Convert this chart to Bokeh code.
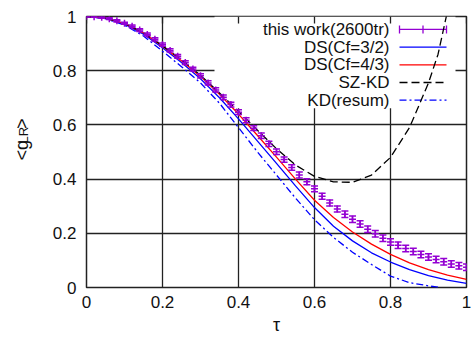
import math
from bokeh.plotting import figure
from bokeh.layouts import row
from bokeh.models import Range1d, FixedTicker, Label
from bokeh.core.properties import value
from bokeh.embed import file_html
from bokeh.resources import INLINE

# ---------------- data ----------------
tau_mc = [0.00, 0.02, 0.04, 0.06, 0.08, 0.10, 0.12, 0.14, 0.16, 0.18,
          0.20, 0.22, 0.24, 0.26, 0.28, 0.30, 0.32, 0.34, 0.36, 0.38,
          0.40, 0.42, 0.44, 0.46, 0.48, 0.50, 0.52, 0.54, 0.56, 0.58,
          0.60, 0.62, 0.64, 0.66, 0.68, 0.70, 0.72, 0.74, 0.76, 0.78,
          0.80, 0.82, 0.84, 0.86, 0.88, 0.90, 0.92, 0.94, 0.96, 0.98,
          1.00]
g_mc = [1.000, 0.999, 0.997, 0.992, 0.984, 0.975, 0.964, 0.950, 0.934, 0.916,
        0.896, 0.875, 0.853, 0.830, 0.806, 0.781, 0.755, 0.729, 0.702, 0.675,
        0.647, 0.617, 0.588, 0.560, 0.530, 0.501, 0.472, 0.443, 0.415, 0.390,
        0.364, 0.337, 0.312, 0.290, 0.270, 0.252, 0.234, 0.215, 0.198, 0.182,
        0.168, 0.156, 0.144, 0.133, 0.122, 0.113, 0.103, 0.095, 0.087, 0.080,
        0.075]
err_mc = [0.002, 0.002, 0.003, 0.003, 0.004, 0.004, 0.005, 0.005, 0.005, 0.006,
          0.006, 0.006, 0.007, 0.007, 0.007, 0.008, 0.008, 0.008, 0.008, 0.009,
          0.009, 0.009, 0.009, 0.010, 0.010, 0.010, 0.010, 0.010, 0.011, 0.011,
          0.011, 0.011, 0.011, 0.011, 0.012, 0.012, 0.012, 0.012, 0.012, 0.012,
          0.012, 0.012, 0.012, 0.012, 0.012, 0.012, 0.012, 0.012, 0.012, 0.012,
          0.012]

tau_curve = [0.00, 0.05, 0.10, 0.15, 0.20, 0.25, 0.30, 0.35, 0.40, 0.45,
             0.50, 0.55, 0.60, 0.65, 0.70, 0.75, 0.80, 0.85, 0.90, 0.95, 1.00]
ds_32 = [1.000, 0.993, 0.972, 0.935, 0.885, 0.830, 0.770, 0.700, 0.622, 0.540,
         0.458, 0.375, 0.295, 0.226, 0.172, 0.128, 0.094, 0.066, 0.044, 0.027, 0.015]
ds_43 = [1.000, 0.994, 0.974, 0.939, 0.890, 0.837, 0.779, 0.713, 0.640, 0.561,
         0.481, 0.400, 0.322, 0.258, 0.205, 0.160, 0.122, 0.091, 0.066, 0.046, 0.030]

tau_szkd = [0.00, 0.05, 0.10, 0.15, 0.20, 0.25, 0.30, 0.35, 0.40, 0.45,
            0.50, 0.55, 0.60, 0.65, 0.70, 0.75, 0.80, 0.85, 0.90, 0.925, 0.95]
sz_kd = [1.000, 0.994, 0.975, 0.940, 0.892, 0.840, 0.783, 0.718, 0.650, 0.580,
         0.512, 0.452, 0.410, 0.390, 0.388, 0.415, 0.480, 0.590, 0.755, 0.860, 1.020]

tau_kd = [0.00, 0.05, 0.10, 0.15, 0.20, 0.25, 0.30, 0.35, 0.40, 0.45,
          0.50, 0.55, 0.60, 0.65, 0.70, 0.75, 0.80, 0.85, 0.90, 0.93]
kd_resum = [1.000, 0.992, 0.968, 0.928, 0.872, 0.815, 0.755, 0.680, 0.590, 0.500,
            0.415, 0.330, 0.250, 0.185, 0.130, 0.085, 0.042, 0.018, 0.006, 0.000]

tick_vals = [0.0, 0.2, 0.4, 0.6, 0.8, 1.0]
tick_labels = ["0", "0.2", "0.4", "0.6", "0.8", "1"]
legend_labels = ["this work(2600tr)", "DS(Cf=3/2)", "DS(Cf=4/3)", "SZ-KD", "KD(resum)"]
x_title = "τ"
y_title_parts = ["<g", "LR", ">"]

# ---------------- styling / layout ----------------
PURPLE = "#9400D3"
FONT = "Liberation Sans"
TXT = "#111111"
H = 337
LW = 40                     # width of the strip holding the y title
W = 471 - LW
ML, MR, MT, MB = 86 - LW, 5, 16, 49
FW, FH = W - ML - MR, H - MT - MB   # frame size in px (380 x 272)


def dx(px):  # horizontal pixel offset -> data units of the main frame
    return px / FW


def dy(py):  # vertical pixel offset -> data units of the main frame
    return py / FH


p = figure(width=W, height=H, x_range=Range1d(0, 1), y_range=Range1d(0, 1),
           output_backend="svg", toolbar_location=None,
           min_border_left=ML, min_border_right=MR,
           min_border_top=MT, min_border_bottom=MB)
p.background_fill_color = "white"
p.border_fill_color = "white"
p.outline_line_color = "#222222"
p.outline_line_width = 1.5

ticker = FixedTicker(ticks=tick_vals)
for ax in (p.xaxis[0], p.yaxis[0]):
    ax.ticker = ticker
    ax.major_label_overrides = {v: s for v, s in zip(tick_vals, tick_labels)}
    ax.axis_line_color = None
    ax.major_tick_out = 0
    ax.major_tick_in = 0
    ax.minor_tick_line_color = None
    ax.major_label_text_font = FONT
    ax.major_label_text_font_size = "17px"
    ax.major_label_text_color = TXT
p.xaxis[0].major_label_standoff = 8
p.yaxis[0].major_label_standoff = 10
p.xaxis[0].axis_label = x_title
p.xaxis[0].axis_label_text_font = FONT
p.xaxis[0].axis_label_text_font_size = "18px"
p.xaxis[0].axis_label_text_font_style = "normal"
p.xaxis[0].axis_label_text_color = TXT
p.xaxis[0].axis_label_standoff = 4

for g in (p.xgrid[0], p.ygrid[0]):
    g.ticker = ticker
    g.grid_line_color = "#222222"
    g.grid_line_width = 1.3
    g.grid_line_alpha = 1.0

# opaque key box (hides grid lines behind the key)
box_left, box_right = dx(128), dx(369)
box_bottom = 1 - dy(92)
p.quad(left=[box_left], right=[box_right], top=[1.0], bottom=[box_bottom],
       fill_color="white", line_color=None)

# inward ticks on the top border
tlen = dy(7)
p.segment(x0=tick_vals, y0=[1.0] * len(tick_vals), x1=tick_vals,
          y1=[1.0 - tlen] * len(tick_vals), line_color="#222222", line_width=1.3)

# key samples
row_y = [1 - dy(13 + 17.75 * i) for i in range(5)]
txt_x = dx(303)
s0, s1 = dx(313), dx(360)
cap = dy(4)
p.segment(x0=[s0], y0=[row_y[0]], x1=[s1], y1=[row_y[0]], line_color=PURPLE, line_width=1.3)
for xx in (s0, (s0 + s1) / 2, s1):
    p.segment(x0=[xx], y0=[row_y[0] - cap], x1=[xx], y1=[row_y[0] + cap],
              line_color=PURPLE, line_width=1.3)
p.segment(x0=[s0], y0=[row_y[1]], x1=[s1], y1=[row_y[1]], line_color="blue", line_width=1.3)
p.segment(x0=[s0], y0=[row_y[2]], x1=[s1], y1=[row_y[2]], line_color="red", line_width=1.3)
p.segment(x0=[s0], y0=[row_y[3]], x1=[s1], y1=[row_y[3]], line_color="black",
          line_width=1.3, line_dash="8 4")
p.segment(x0=[s0], y0=[row_y[4]], x1=[s1], y1=[row_y[4]], line_color="blue",
          line_width=1.3, line_dash="7 3 2 3")

for yy, lab in zip(row_y, legend_labels):
    p.add_layout(Label(x=txt_x, y=yy, text=lab, text_align="right",
                       text_baseline="middle", text_font=FONT,
                       text_font_size="17px", text_color=TXT))

# ---------------- data curves ----------------
p.line(tau_kd, kd_resum, line_color="blue", line_width=1.3, line_dash="7 3 2 3")
p.line(tau_curve, ds_32, line_color="blue", line_width=1.3)
p.line(tau_curve, ds_43, line_color="red", line_width=1.3)
p.line(tau_szkd, sz_kd, line_color="black", line_width=1.3, line_dash="8 4")

lo = [g - e for g, e in zip(g_mc, err_mc)]
hi = [g + e for g, e in zip(g_mc, err_mc)]
p.segment(x0=tau_mc, y0=lo, x1=tau_mc, y1=hi, line_color=PURPLE, line_width=1.5)
p.scatter(tau_mc, lo, marker="dash", size=7, line_color=PURPLE, line_width=1.5)
p.scatter(tau_mc, hi, marker="dash", size=7, line_color=PURPLE, line_width=1.5)
p.scatter(tau_mc, g_mc, marker="cross", size=7, line_color=PURPLE, line_width=1.5)

# ---------------- y title strip (rotated, with subscript) ----------------
q = figure(width=LW, height=H, x_range=Range1d(0, LW), y_range=Range1d(0, H),
           output_backend="svg", toolbar_location=None,
           min_border_left=0, min_border_right=0, min_border_top=0, min_border_bottom=0)
q.axis.visible = False
q.grid.visible = False
q.outline_line_color = None
q.background_fill_color = "white"
q.border_fill_color = "white"
q.text(x=[21], y=[H - 179], text=[y_title_parts[0]], angle=math.pi / 2,
       text_align="left", text_baseline="alphabetic", text_font=value(FONT),
       text_font_size="18px", text_color=TXT)
q.text(x=[23], y=[H - 158], text=[y_title_parts[1]], angle=math.pi / 2,
       text_align="left", text_baseline="alphabetic", text_font=value(FONT),
       text_font_size="13px", text_color=TXT)
q.text(x=[21], y=[H - 140], text=[y_title_parts[2]], angle=math.pi / 2,
       text_align="left", text_baseline="alphabetic", text_font=value(FONT),
       text_font_size="18px", text_color=TXT)

layout = row(q, p)
open("out.html", "w").write(file_html(layout, INLINE))
